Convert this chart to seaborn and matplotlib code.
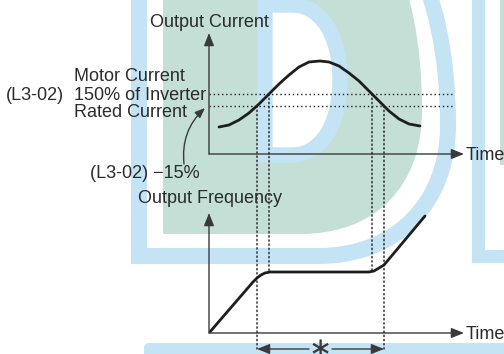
"""
Stall prevention during run: output current / output frequency timing chart.
Writes out.png (504x354).
"""

import matplotlib
matplotlib.use("Agg")
import matplotlib.pyplot as plt
import pandas as pd
import seaborn as sns
from matplotlib.patches import ConnectionPatch, PathPatch, FancyBboxPatch, Rectangle
from matplotlib.path import Path

# output current over time (upper panel)
current_time = [10, 20, 30, 40, 50, 60, 70, 80, 90, 100, 111, 120, 130, 140, 150, 160, 170, 180, 190, 200, 211]
current_value = [27, 29, 34, 41, 50, 60, 70, 79, 87, 92, 93, 92, 88, 81, 73, 63, 53, 43, 35, 30, 28]

# output frequency over time (lower panel)
freq_time = [0, 44, 48, 52, 56, 61, 160, 165, 170, 175, 216]
freq_value = [0, 51, 55, 58, 60, 61, 61, 62, 65, 68, 117]

# stall levels and the times the current crosses them
stall_level = 60      # L3-02
release_level = 48    # L3-02 - 15 %
stall_times = [60, 163]
release_times = [48, 175]
freq_at_stall = [61, 61]

TEXT = "#2b2b2b"
LINE = "#1e1e1e"
AXIS = "#3a3a3a"
BLUE = "#c4e3f5"
GREEN = "#c3dfd6"
W, H = 504, 354

sns.set_style("white")
plt.rcParams["font.family"] = ["Liberation Sans", "DejaVu Sans"]

fig = plt.figure(figsize=(W / 100, H / 100), dpi=100)


def fx(x, y):
    return x / W, 1 - y / H


def d_shape(x0, ytop, ybot, xr, xc, yc, k=0.6):
    # D letter outline: straight left side, rounded right side
    rx = xr - xc
    return Path(
        [(x0, ytop), (x0, ybot), (xc, ybot),
         (xc + k * rx, ybot), (xr, yc + k * (ybot - yc)), (xr, yc),
         (xr, yc - k * (yc - ytop)), (xc + k * rx, ytop), (xc, ytop),
         (x0, ytop)],
        [Path.MOVETO, Path.LINETO, Path.LINETO,
         Path.CURVE4, Path.CURVE4, Path.CURVE4,
         Path.CURVE4, Path.CURVE4, Path.CURVE4,
         Path.CLOSEPOLY])


# faint watermark in the background -------------------------------------------
bg = fig.add_axes([0, 0, 1, 1], zorder=0)
bg.set_xlim(0, W)
bg.set_ylim(H, 0)
bg.axis("off")
bg.add_patch(PathPatch(d_shape(139, -110, 256, 448, 318, 125), fc="white", ec=BLUE, lw=11.5))
bg.add_patch(PathPatch(d_shape(163, -110, 234, 422, 300, 110, k=0.62), fc=GREEN, ec="none"))
bg.add_patch(PathPatch(d_shape(265, 5, 155, 340, 292, 80), fc="white", ec=BLUE, lw=11))
bg.add_patch(Rectangle((478, -20), 60, 276, fc="white", ec=BLUE, lw=9.5))
bg.add_patch(Rectangle((500, -10), 20, 175, fc=GREEN, ec="none"))
bg.add_patch(FancyBboxPatch((144, 343), 380, 20, boxstyle="round,pad=0,rounding_size=5",
                            fc=BLUE, ec="none"))

# panels: 1 data unit = 1 pixel -------------------------------------------------
ax1 = fig.add_axes([209 / W, (H - 154) / H, 255 / W, 121 / H], zorder=2)
ax2 = fig.add_axes([209 / W, (H - 333) / H, 255 / W, 120 / H], zorder=2)

cur = pd.DataFrame({"time": current_time, "value": current_value})
frq = pd.DataFrame({"time": freq_time, "value": freq_value})
sns.lineplot(data=cur, x="time", y="value", ax=ax1, color=LINE, lw=2.0, sort=False)
sns.lineplot(data=frq, x="time", y="value", ax=ax2, color=LINE, lw=2.0, sort=False)

dots = (0, (1, 2))
for lvl in (stall_level, release_level):
    ax1.plot([0, 243], [lvl, lvl], ls=dots, lw=1.0, color=LINE)

head = "-|>,head_length=0.55,head_width=0.22"
for ax, top in ((ax1, 121), (ax2, 120)):
    ax.set_xlim(0, 255)
    ax.set_ylim(0, top)
    ax.axis("off")
    ax.patch.set_alpha(0)
    ax.annotate("", xy=(0, top), xytext=(0, 0), annotation_clip=False,
                arrowprops=dict(arrowstyle=head, mutation_scale=14, lw=1.0, color=AXIS,
                                shrinkA=0, shrinkB=0))
    ax.annotate("", xy=(255, 0), xytext=(0, 0), annotation_clip=False,
                arrowprops=dict(arrowstyle=head, mutation_scale=14, lw=1.0, color=AXIS,
                                shrinkA=0, shrinkB=0))

# dotted verticals linking the two panels
for t in release_times:
    fig.add_artist(ConnectionPatch(xyA=(t, release_level), coordsA=ax1.transData,
                                   xyB=(t, -16), coordsB=ax2.transData,
                                   ls=dots, lw=1.0, color=LINE, zorder=3))
for t, f in zip(stall_times, freq_at_stall):
    fig.add_artist(ConnectionPatch(xyA=(t, stall_level), coordsA=ax1.transData,
                                   xyB=(t, f), coordsB=ax2.transData,
                                   ls=dots, lw=1.0, color=LINE, zorder=3))

# span arrow with asterisk
mid = (release_times[0] + release_times[1]) / 2
for start, end in ((mid - 11.5, release_times[0]), (mid + 11.5, release_times[1])):
    ax2.annotate("", xy=(end, -16), xytext=(start, -16), annotation_clip=False,
                 arrowprops=dict(arrowstyle=head, mutation_scale=14, lw=1.0, color=AXIS,
                                 shrinkA=0, shrinkB=0))
ax2.text(mid, -16, "\u2217", ha="center", va="center", fontsize=20, color=AXIS,
         family="DejaVu Sans", clip_on=False)

# labels ------------------------------------------------------------------------
fs = 13
labels = [
    ("Output Current", 150, 27),
    ("Motor Current", 74, 81),
    ("(L3-02)", 6, 100),
    ("150% of Inverter", 74, 100),
    ("Rated Current", 74, 117),
    ("(L3-02) \u221215%", 90, 178),
    ("Output Frequency", 138, 203),
    ("Time", 466, 160),
    ("Time", 466, 339),
]
for s, x, y in labels:
    fig.text(*fx(x, y), s, fontsize=fs, color=TEXT, ha="left", va="baseline", zorder=4)

ax1.annotate("", xy=(-4, 46), xytext=fx(184, 164), textcoords="figure fraction",
             annotation_clip=False,
             arrowprops=dict(arrowstyle="-|>,head_length=0.5,head_width=0.2",
                             mutation_scale=12, lw=1.0, color=AXIS,
                             connectionstyle="arc3,rad=-0.25", shrinkA=0, shrinkB=0))

fig.savefig("out.png", dpi=100)
